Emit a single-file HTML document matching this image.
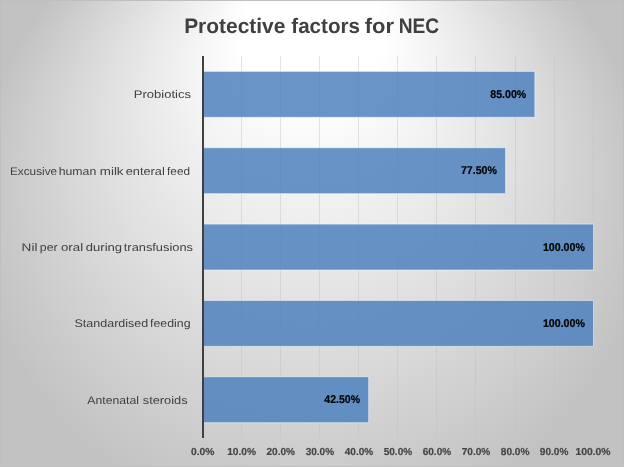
<!DOCTYPE html>
<html lang="en">
<head>
<meta charset="utf-8">
<title>Protective factors for NEC</title>
<style>
html,body{margin:0;padding:0;background:#c2c2c2;}
body{width:624px;height:467px;overflow:hidden;}
svg{display:block;}
text{font-family:"Liberation Sans",sans-serif;white-space:pre;text-rendering:geometricPrecision;}
.t{font-weight:bold;font-size:21.0px;fill:#404040;}
.c{font-size:11.1px;fill:#404040;}
.d{font-weight:bold;font-size:11.3px;fill:#000;stroke:#000;stroke-width:0.2px;}
.x{font-weight:bold;font-size:10.2px;fill:#454545;stroke:#454545;stroke-width:0.2px;}
</style>
</head>
<body>
<svg width="624" height="467" viewBox="0 0 624 467">
<defs>
<radialGradient id="bg" gradientUnits="userSpaceOnUse" cx="0" cy="0" r="1" fx="0" fy="-0.6631" gradientTransform="translate(312 205.2) scale(336.4 326.2)">
<stop offset="0" stop-color="#fff"/>
<stop offset="0.21" stop-color="#fff"/>
<stop offset="1" stop-color="rgb(194,194,194)"/>
</radialGradient>
<linearGradient id="gl" gradientUnits="userSpaceOnUse" x1="0" y1="56" x2="0" y2="438">
<stop offset="0" stop-color="#bfbfbf"/>
<stop offset="1" stop-color="#bfbfbf"/>
</linearGradient>
</defs>
<rect x="0" y="0" width="624" height="467" fill="url(#bg)"/>
<rect x="0.5" y="0.5" width="623" height="466" fill="none" stroke="#bfbfbf" stroke-width="1"/>
<g fill="url(#gl)" fill-opacity="0.42">
<rect x="241" y="56.0" width="1" height="382.0"/>
<rect x="280" y="56.0" width="1" height="382.0"/>
<rect x="319" y="56.0" width="1" height="382.0"/>
<rect x="358" y="56.0" width="1" height="382.0"/>
<rect x="397" y="56.0" width="1" height="382.0"/>
<rect x="436" y="56.0" width="1" height="382.0"/>
<rect x="475" y="56.0" width="1" height="382.0"/>
<rect x="515" y="56.0" width="1" height="382.0"/>
<rect x="554" y="56.0" width="1" height="382.0"/>
<rect x="593" y="56.0" width="1" height="382.0"/>
</g>
<g fill="#4f81bd" fill-opacity="0.85" stroke="#fff" stroke-opacity="0.5" stroke-width="1">
<rect x="203.0" y="71.40" width="331.85" height="45.9"/>
<rect x="203.0" y="147.75" width="302.53" height="45.9"/>
<rect x="203.0" y="224.10" width="390.50" height="45.9"/>
<rect x="203.0" y="300.45" width="390.50" height="45.9"/>
<rect x="203.0" y="376.80" width="165.68" height="45.9"/>
</g>
<rect x="202" y="56.0" width="2" height="382.0" fill="#404040"/>
<text class="t" y="32.80"><tspan x="184.14" textLength="101.21" lengthAdjust="spacingAndGlyphs">Protective</tspan> <tspan x="291.29" textLength="68.75" lengthAdjust="spacingAndGlyphs">factors</tspan> <tspan x="364.77" textLength="29.24" lengthAdjust="spacingAndGlyphs">for</tspan> <tspan x="398.75" textLength="40.47" lengthAdjust="spacingAndGlyphs">NEC</tspan></text>
<text class="c" y="98.00"><tspan x="133.86" textLength="57.10" lengthAdjust="spacingAndGlyphs">Probiotics</tspan></text>
<text class="c" y="174.80"><tspan x="9.96" textLength="47.13" lengthAdjust="spacingAndGlyphs">Excusive</tspan> <tspan x="58.70" textLength="37.55" lengthAdjust="spacingAndGlyphs">human</tspan> <tspan x="99.83" textLength="23.70" lengthAdjust="spacingAndGlyphs">milk</tspan> <tspan x="125.69" textLength="39.11" lengthAdjust="spacingAndGlyphs">enteral</tspan> <tspan x="167.08" textLength="22.94" lengthAdjust="spacingAndGlyphs">feed</tspan></text>
<text class="c" y="250.80"><tspan x="21.61" textLength="15.83" lengthAdjust="spacingAndGlyphs">Nil</tspan> <tspan x="39.86" textLength="17.80" lengthAdjust="spacingAndGlyphs">per</tspan> <tspan x="60.97" textLength="22.16" lengthAdjust="spacingAndGlyphs">oral</tspan> <tspan x="85.78" textLength="36.32" lengthAdjust="spacingAndGlyphs">during</tspan> <tspan x="123.81" textLength="69.14" lengthAdjust="spacingAndGlyphs">transfusions</tspan></text>
<text class="c" y="327.10"><tspan x="74.44" textLength="73.83" lengthAdjust="spacingAndGlyphs">Standardised</tspan> <tspan x="150.08" textLength="40.48" lengthAdjust="spacingAndGlyphs">feeding</tspan></text>
<text class="c" y="403.90"><tspan x="87.30" textLength="51.76" lengthAdjust="spacingAndGlyphs">Antenatal</tspan> <tspan x="142.78" textLength="44.77" lengthAdjust="spacingAndGlyphs">steroids</tspan></text>
<text class="d" y="97.95"><tspan x="490.33" textLength="35.87" lengthAdjust="spacingAndGlyphs">85.00%</tspan></text>
<text class="d" y="174.30"><tspan x="460.90" textLength="35.98" lengthAdjust="spacingAndGlyphs">77.50%</tspan></text>
<text class="d" y="250.65"><tspan x="542.96" textLength="41.89" lengthAdjust="spacingAndGlyphs">100.00%</tspan></text>
<text class="d" y="327.00"><tspan x="542.96" textLength="41.89" lengthAdjust="spacingAndGlyphs">100.00%</tspan></text>
<text class="d" y="403.35"><tspan x="324.32" textLength="35.71" lengthAdjust="spacingAndGlyphs">42.50%</tspan></text>
<text class="x" y="455.00"><tspan x="190.94" textLength="23.41" lengthAdjust="spacingAndGlyphs">0.0%</tspan></text>
<text class="x" y="455.00"><tspan x="227.14" textLength="28.86" lengthAdjust="spacingAndGlyphs">10.0%</tspan></text>
<text class="x" y="455.00"><tspan x="266.50" textLength="28.55" lengthAdjust="spacingAndGlyphs">20.0%</tspan></text>
<text class="x" y="455.00"><tspan x="305.65" textLength="28.44" lengthAdjust="spacingAndGlyphs">30.0%</tspan></text>
<text class="x" y="455.00"><tspan x="344.75" textLength="28.39" lengthAdjust="spacingAndGlyphs">40.0%</tspan></text>
<text class="x" y="455.00"><tspan x="383.65" textLength="28.55" lengthAdjust="spacingAndGlyphs">50.0%</tspan></text>
<text class="x" y="455.00"><tspan x="422.65" textLength="28.60" lengthAdjust="spacingAndGlyphs">60.0%</tspan></text>
<text class="x" y="455.00"><tspan x="461.65" textLength="28.65" lengthAdjust="spacingAndGlyphs">70.0%</tspan></text>
<text class="x" y="455.00"><tspan x="500.80" textLength="28.55" lengthAdjust="spacingAndGlyphs">80.0%</tspan></text>
<text class="x" y="455.00"><tspan x="539.85" textLength="28.55" lengthAdjust="spacingAndGlyphs">90.0%</tspan></text>
<text class="x" y="455.00"><tspan x="575.43" textLength="35.17" lengthAdjust="spacingAndGlyphs">100.0%</tspan></text>
</svg>
</body>
</html>
